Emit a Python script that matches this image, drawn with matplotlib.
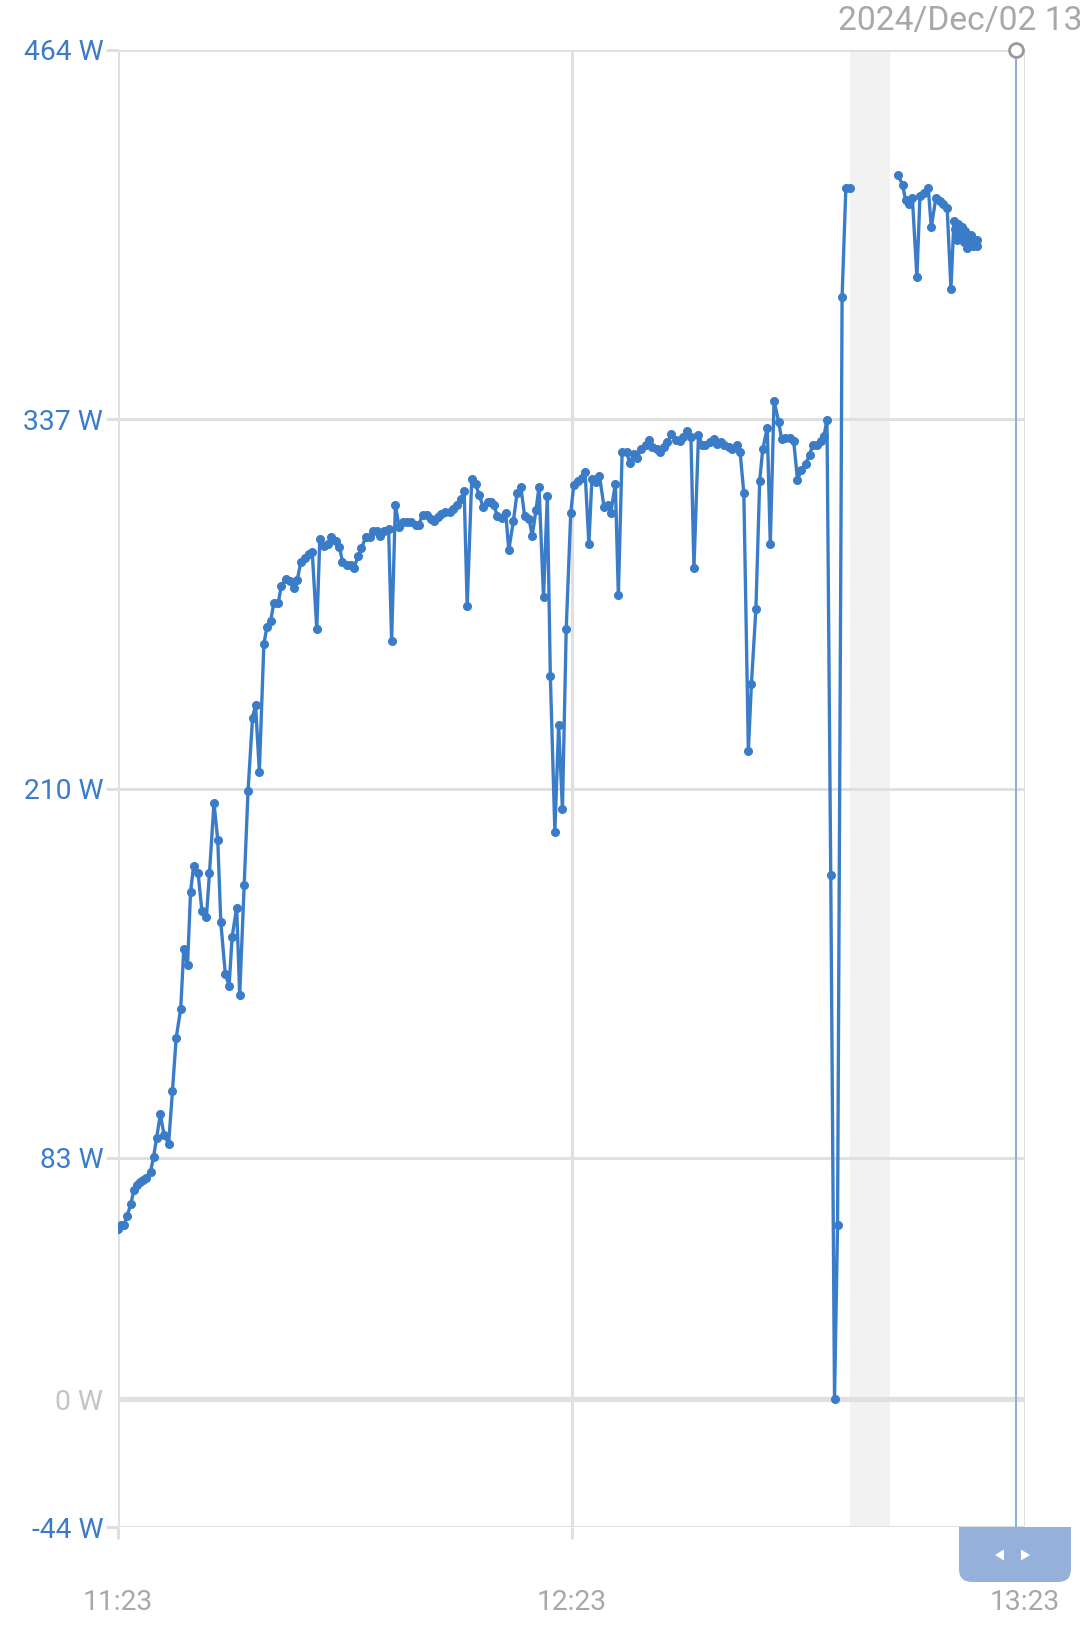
import numpy as np
import matplotlib
matplotlib.use("Agg")
import matplotlib.pyplot as plt
from matplotlib.patches import FancyBboxPatch, Rectangle, Polygon
from matplotlib.transforms import IdentityTransform

plt.rcParams['font.family'] = ['Roboto', 'DejaVu Sans']

# ---- data: minutes after 11:23 and power in watts ----
minutes = [0.0, 0.4, 0.8, 1.2, 1.7, 2.1, 2.5, 2.9, 3.3, 3.7, 4.3, 4.7, 5.1, 5.6, 6.1, 6.7,
           7.2, 7.7, 8.3, 8.7, 9.2, 9.6, 10.0, 10.6, 11.1, 11.7, 12.1, 12.7, 13.2, 13.6, 14.2,
           14.7, 15.1, 15.7, 16.1, 16.7, 17.2, 17.8, 18.2, 18.7, 19.3, 19.7, 20.2, 20.6, 21.2,
           21.6, 22.2, 22.7, 23.3, 23.7, 24.2, 24.8, 25.3, 25.7, 26.3, 26.7, 27.2, 27.8, 28.2,
           28.8, 29.3, 29.7, 30.3, 30.8, 31.2, 31.8, 32.2, 32.8, 33.3, 33.7, 34.3, 34.7, 35.2,
           35.8, 36.2, 36.7, 37.2, 37.7, 38.3, 38.8, 39.4, 39.8, 40.3, 40.9, 41.4, 41.8, 42.4,
           42.8, 43.3, 43.9, 44.3, 44.9, 45.4, 45.8, 46.2, 46.8, 47.3, 47.8, 48.3, 48.9, 49.3,
           49.7, 50.2, 50.8, 51.3, 51.7, 52.3, 52.8, 53.3, 53.8, 54.4, 54.8, 55.3, 55.7, 56.3,
           56.8, 57.2, 57.8, 58.3, 58.8, 59.3, 59.9, 60.3, 60.8, 61.4, 61.8, 62.3, 62.7, 63.3,
           63.7, 64.3, 64.8, 65.2, 65.8, 66.2, 66.7, 67.3, 67.7, 68.3, 68.7, 69.2, 69.8, 70.2,
           70.7, 71.3, 71.7, 72.2, 72.7, 73.2, 73.8, 74.3, 74.7, 75.3, 75.8, 76.2, 76.8, 77.3,
           77.7, 78.3, 78.8, 79.3, 79.8, 80.2, 80.8, 81.3, 81.9, 82.3, 82.8, 83.4, 83.8, 84.4,
           84.9, 85.3, 85.9, 86.3, 86.8, 87.4, 87.8, 88.3, 88.9, 89.4, 89.9, 90.4, 91.0, 91.5,
           91.9, 92.5, 93.0, 93.4, 93.8, 94.3, 94.8, 95.2, 95.8, 96.3, 96.9,
           100.0,
           103.2, 103.8, 104.2, 104.7, 105.1, 105.7, 106.1, 106.6, 107.2, 107.6, 108.2, 108.7,
           109.1, 109.7, 110.2, 110.6, 110.8, 111.0, 111.2, 111.5, 111.6, 111.9, 112.0, 112.3,
           112.4, 112.7, 112.8, 113.1, 113.3, 113.6, 113.7]
watts = [58.6, 60.0, 60.0, 62.9, 67.2, 71.8, 73.6, 74.7, 75.4, 76.1, 78.2, 83.2, 89.7, 97.9, 90.8, 87.9,
         105.8, 124.3, 134.3, 154.7, 149.3, 174.4, 183.3, 180.8, 167.9, 165.8, 180.8, 205.1, 192.2, 164.0, 146.1,
         142.2, 159.0, 169.0, 139.0, 176.9, 209.0, 234.4, 238.7, 215.8, 259.8, 265.5, 267.6, 273.7, 273.7,
         279.8, 281.9, 281.2, 279.1, 281.6, 288.0, 289.4, 290.5, 291.2, 264.8, 295.8, 293.3, 294.1, 296.6,
         295.1, 293.0, 288.0, 286.9, 286.9, 285.8, 290.1, 292.6, 296.6, 296.6, 298.7, 298.7, 296.9, 298.7,
         299.4, 260.8, 307.6, 299.8, 301.6, 301.6, 301.6, 300.8, 300.8, 304.1, 304.1, 302.6, 301.9, 303.4,
         304.4, 305.1, 305.1, 306.2, 307.6, 309.4, 312.3, 272.6, 316.6, 314.8, 310.9, 306.9, 308.7, 308.7,
         307.6, 303.7, 303.0, 304.8, 291.9, 301.9, 311.6, 313.7, 303.7, 302.6, 296.9, 305.8, 313.7, 275.8,
         310.5, 248.7, 195.1, 231.9, 202.9, 264.8, 304.8, 314.4, 315.9, 316.9, 318.7, 294.1, 316.6, 315.5,
         317.6, 306.9, 307.6, 304.8, 314.8, 276.6, 325.9, 325.9, 321.9, 325.1, 323.7, 326.9, 328.0, 329.8,
         327.6, 326.9, 325.9, 327.3, 329.1, 331.9, 329.8, 329.4, 330.9, 333.0, 330.9, 285.8, 331.6, 328.0,
         328.0, 329.1, 330.2, 328.4, 329.1, 328.0, 327.3, 326.9, 328.0, 325.9, 311.6, 223.0, 245.8, 271.9,
         315.9, 326.6, 334.1, 294.1, 343.4, 336.2, 330.2, 330.5, 330.5, 329.4, 316.2, 319.4, 321.6, 324.8,
         328.0, 328.0, 329.4, 331.2, 336.9, 180.1, 0.0, 59.7, 379.1, 416.6, 416.6,
         np.nan,
         420.9, 417.7, 412.3, 411.2, 413.0, 385.9, 413.7, 414.8, 416.6, 403.0, 413.0, 412.0,
         410.9, 409.8, 381.9, 405.2, 402.3, 398.7, 404.1, 400.6, 403.0, 398.0, 401.6, 395.9,
         399.4, 397.3, 400.2, 396.6, 398.7, 396.6, 398.7]

y_ticks = [464, 337, 210, 83, 0, -44]
y_tick_labels = ["464 W", "337 W", "210 W", "83 W", "0 W", "-44 W"]
x_ticks = [0, 60, 120]
x_tick_labels = ["11:23", "12:23", "13:23"]
gap_span = (96.9, 102.2)
cursor_minute = 118.8
header_text = "2024/Dec/02 13"

LINE = "#3a7cc8"
GRID = "#e0e0e0"
BLUE_TXT = "#3a7cc8"
GREY_TXT = "#a8a8a8"

W, H = 1080, 1629
fig = plt.figure(figsize=(W / 100, H / 100), dpi=100)
ax = fig.add_axes([118 / W, 1 - 1527 / H, (1025 - 118) / W, (1527 - 50) / H])
ax.set_xlim(0, 120)
ax.set_ylim(-44, 464)

for s in ax.spines.values():
    s.set_visible(False)

# gap band
ax.axvspan(*gap_span, color="#f2f2f2", zorder=0.5, lw=0)

# horizontal grid
for v in y_ticks:
    lw = 3.8 if v == 0 else 2.2
    ax.axhline(v, color=GRID, lw=lw, zorder=1)
# vertical lines
for v in [0, 60, 120]:
    ax.axvline(v, color=GRID, lw=2.2, zorder=1)

ax.set_yticks(y_ticks)
ax.set_yticklabels(y_tick_labels)
ax.tick_params(axis="y", length=8.6, width=2.2, color=GRID, pad=2.0, labelsize=20.3)
for tick, lab, v in zip(ax.yaxis.get_major_ticks(), ax.get_yticklabels(), y_ticks):
    if v == 0:
        lab.set_color("#c4c4c4")
        tick.tick1line.set_visible(False)
    else:
        lab.set_color(BLUE_TXT)

ax.set_xticks(x_ticks)
ax.set_xticklabels(x_tick_labels)
ax.tick_params(axis="x", length=8.6, width=2.2, color=GRID, pad=36, labelsize=20.3, labelcolor=GREY_TXT)
ax.xaxis.get_major_ticks()[2].tick1line.set_visible(False)

# data line
ax.plot(minutes, watts, "-o", color=LINE, lw=2.4, ms=5.5, mec=LINE, mfc=LINE, zorder=3)

# cursor
ax.axvline(cursor_minute, color="#8eaedc", lw=1.5, zorder=4)
ax.plot([cursor_minute], [464], "o", ms=10, mfc="white", mec="#9a9a9a", mew=2.0, zorder=5, clip_on=False)

# header
fig.text(838 / W, 1 - 21 / H, header_text, color=GREY_TXT, fontsize=24.2, ha="left", va="center")

# tooltip handle
idt = IdentityTransform()
bx, by, bw, bh = 959, H - 1582, 112, 55
fig.add_artist(FancyBboxPatch((bx, by), bw, bh, boxstyle="round,pad=0,rounding_size=13",
                              transform=idt, fc="#95b1db", ec="none", zorder=10))
fig.add_artist(Rectangle((bx, by + 20), bw, bh - 20, transform=idt, fc="#95b1db", ec="none", zorder=10))
cy = H - 1555
fig.add_artist(Polygon([(995, cy), (1004, cy + 5.5), (1004, cy - 5.5)], closed=True,
                       transform=idt, fc="white", ec="none", zorder=11))
fig.add_artist(Polygon([(1030, cy), (1021, cy + 5.5), (1021, cy - 5.5)], closed=True,
                       transform=idt, fc="white", ec="none", zorder=11))

fig.savefig("out.png", dpi=100)
